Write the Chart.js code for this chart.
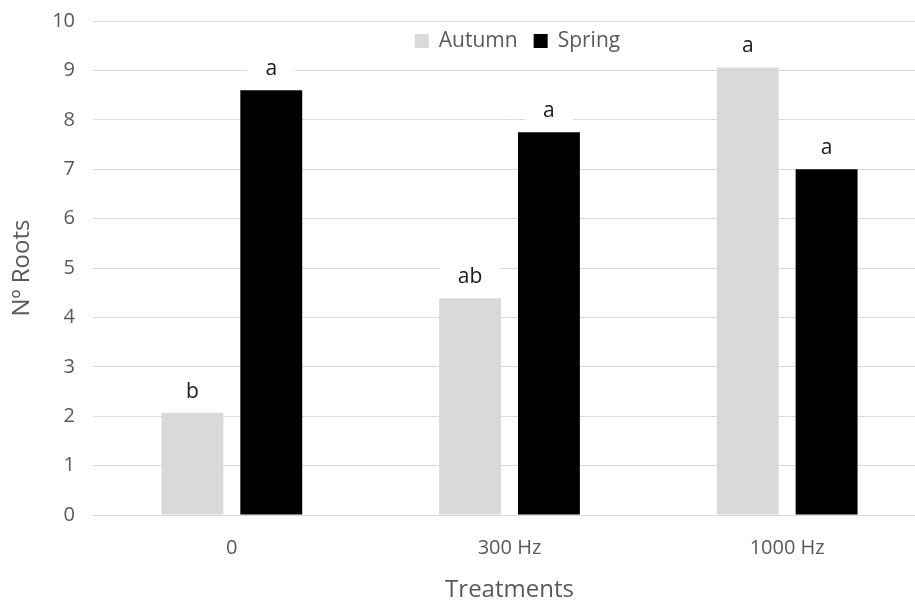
<!DOCTYPE html>
<html>
<head>
<meta charset="utf-8">
<script src="https://cdn.jsdelivr.net/npm/chart.js@4/dist/chart.umd.min.js"></script>
<style>
html,body{margin:0;padding:0;background:#fff;overflow:hidden;}
#wrap{width:926px;height:602px;position:relative;}
</style>
</head>
<body>
<div id="wrap"><canvas id="c"></canvas></div>
<script>
const categories = ["0", "300 Hz", "1000 Hz"];
const seriesNames = ["Autumn", "Spring"];
const autumnValues = [2.07, 4.39, 9.06];
const springValues = [8.6, 7.75, 7.0];
const autumnLetters = ["b", "ab", "a"];
const springLetters = ["a", "a", "a"];
const yTicks = [0,1,2,3,4,5,6,7,8,9,10];

const FONT = "'Open Sans', 'DejaVu Sans', sans-serif";
const GREY = "#595959";

const letterPlugin = {
  id: 'letters',
  afterDatasetsDraw(chart) {
    const ctx = chart.ctx;
    ctx.save();
    ctx.font = "21px " + FONT;
    ctx.textAlign = 'center';
    ctx.textBaseline = 'middle';
    chart.data.datasets.forEach((ds, di) => {
      const meta = chart.getDatasetMeta(di);
      meta.data.forEach((bar, i) => {
        const txt = ds.letters[i];
        const y = bar.y - 21;
        const w = ctx.measureText(txt).width + 36;
        ctx.fillStyle = '#fff';
        ctx.fillRect(bar.x - w/2, y - 12, w, 24);
        ctx.fillStyle = '#1a1a1a';
        ctx.fillText(txt, bar.x, y);
      });
    });
    ctx.restore();
  }
};

const legendPlugin = {
  id: 'customLegend',
  afterDraw(chart) {
    const ctx = chart.ctx;
    const ca = chart.chartArea;
    ctx.save();
    ctx.font = "21px " + FONT;
    ctx.textBaseline = 'middle';
    const box = 14, gap = 10, itemGap = 16;
    const items = chart.data.datasets.map(d => ({label: d.label, color: d.backgroundColor, w: ctx.measureText(d.label).width}));
    let total = 0;
    items.forEach((it, i) => { total += box + gap + it.w + (i < items.length - 1 ? itemGap : 0); });
    let x = (ca.left + ca.right) / 2 + 8 - total / 2;
    const y = ca.top + 20;
    items.forEach(it => {
      ctx.fillStyle = it.color;
      ctx.fillRect(x, y - box/2, box, box);
      x += box + gap;
      ctx.fillStyle = GREY;
      ctx.fillText(it.label, x, y);
      x += it.w + itemGap;
    });
    ctx.restore();
  }
};

new Chart(document.getElementById('c'), {
  type: 'bar',
  data: {
    labels: categories,
    datasets: [
      { label: seriesNames[0], data: autumnValues, backgroundColor: '#d9d9d9', letters: autumnLetters,
        categoryPercentage: 0.568, barPercentage: 0.785 },
      { label: seriesNames[1], data: springValues, backgroundColor: '#000000', letters: springLetters,
        categoryPercentage: 0.568, barPercentage: 0.785 }
    ]
  },
  options: {
    responsive: true,
    maintainAspectRatio: false,
    animation: false,
    layout: { padding: { top: 21, right: 0, bottom: 0, left: 0 } },
    plugins: { legend: { display: false }, tooltip: { enabled: false } },
    scales: {
      x: {
        grid: { display: false, drawTicks: false },
        border: { display: false },
        ticks: { color: GREY, font: { family: FONT, size: 20 }, padding: 21 },
        title: { display: true, text: 'Treatments', color: GREY, font: { family: FONT, size: 24, lineHeight: 1.0 }, padding: { top: 12, bottom: 0 } },
        afterFit(s) { s.height = 87; }
      },
      y: {
        min: 0, max: 10,
        afterBuildTicks(s) { s.ticks = yTicks.map(v => ({ value: v })); },
        grid: { color: '#d9d9d9', lineWidth: 1, drawTicks: false },
        border: { display: false },
        ticks: { color: GREY, font: { family: FONT, size: 20 }, padding: 18 },
        title: { display: true, text: 'Nº Roots', color: GREY, font: { family: FONT, size: 24 }, padding: { top: 8, bottom: 0 } },
        afterFit(s) { s.width = 93; s.paddingTop = 0; s.paddingBottom = 0; }
      }
    }
  },
  plugins: [letterPlugin, legendPlugin]
});
</script>
</body>
</html>
